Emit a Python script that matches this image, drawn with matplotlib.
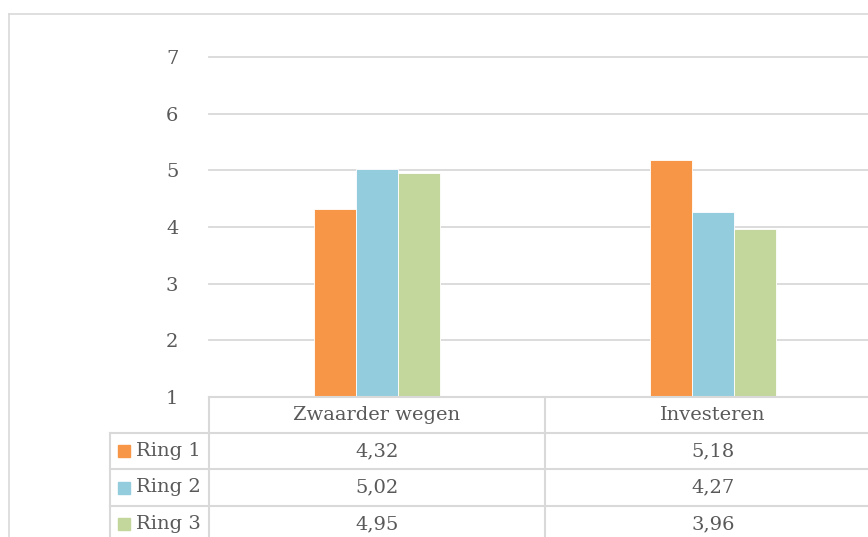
import matplotlib.pyplot as plt
import numpy as np

categories = ["Zwaarder wegen", "Investeren"]
series = ["Ring 1", "Ring 2", "Ring 3"]
ring1 = [4.32, 5.18]
ring2 = [5.02, 4.27]
ring3 = [4.95, 3.96]
colors = ["#F79646", "#93CDDD", "#C3D69B"]

W, H = 868, 537
plt.rcParams['font.family'] = ['DejaVu Serif']
fig = plt.figure(figsize=(W / 100, H / 100), dpi=100)

# plot area in pixels (top-origin): x 209..881, y 57..397
px_l, px_r, px_t, px_b = 209, 881, 57, 397
ax = fig.add_axes([px_l / W, (H - px_b) / H, (px_r - px_l) / W, (px_b - px_t) / H])
ax.set_xlim(0, 2)
ax.set_ylim(1, 7)
x = np.arange(len(categories)) + 0.5
bw = 0.125
for i, vals in enumerate([ring1, ring2, ring3]):
    ax.bar(x + (i - 1) * bw, vals, width=bw, color=colors[i],
           edgecolor="white", linewidth=0.6, zorder=3)
ax.set_yticks(range(1, 8))
ax.yaxis.grid(True, color="#d9d9d9", linewidth=1.3, zorder=0)
for gl in ax.get_ygridlines():
    gl.set_clip_on(False)
ax.set_xticks([])
for s in ax.spines.values():
    s.set_visible(False)
ax.tick_params(axis="y", length=0, pad=22, labelsize=14, labelcolor="#595959")

# overlay for the data table and chart border, pixel coordinates
ov = fig.add_axes([0, 0, 1, 1], zorder=5)
ov.set_xlim(0, W)
ov.set_ylim(H, 0)
ov.axis("off")
ov.patch.set_alpha(0)

lc = "#d9d9d9"
ov.plot([9, 9], [14, H + 5], color=lc, lw=1.2)
ov.plot([9, W + 5], [14, 14], color=lc, lw=1.2)

col_edges = [209, 545, 881]
row_edges = [397, 433, 469, 506, 542]
leg_l = 110
ov.plot([col_edges[0], W + 5], [row_edges[0]] * 2, color=lc, lw=1.5)
for y in row_edges[1:4]:
    ov.plot([leg_l, W + 5], [y, y], color=lc, lw=1.5)
ov.plot([leg_l, leg_l], [row_edges[1], H + 5], color=lc, lw=1.5)
for xe in col_edges:
    ov.plot([xe, xe], [row_edges[0], H + 5], color=lc, lw=1.5)

tc = "#595959"
for j, cat in enumerate(categories):
    xc = (col_edges[j] + col_edges[j + 1]) / 2
    ov.text(xc, (row_edges[0] + row_edges[1]) / 2, cat, ha="center", va="center",
            fontsize=14, color=tc)
for i, vals in enumerate([ring1, ring2, ring3]):
    yc = (row_edges[i + 1] + row_edges[i + 2]) / 2
    ov.add_patch(plt.Rectangle((118, yc - 6), 12, 12, color=colors[i]))
    ov.text(136, yc, series[i], ha="left", va="center", fontsize=14, color=tc)
    for j, v in enumerate(vals):
        xc = (col_edges[j] + col_edges[j + 1]) / 2
        ov.text(xc, yc, f"{v:.2f}".replace(".", ","), ha="center", va="center",
                fontsize=14, color=tc)

fig.savefig("out.png", dpi=100)
